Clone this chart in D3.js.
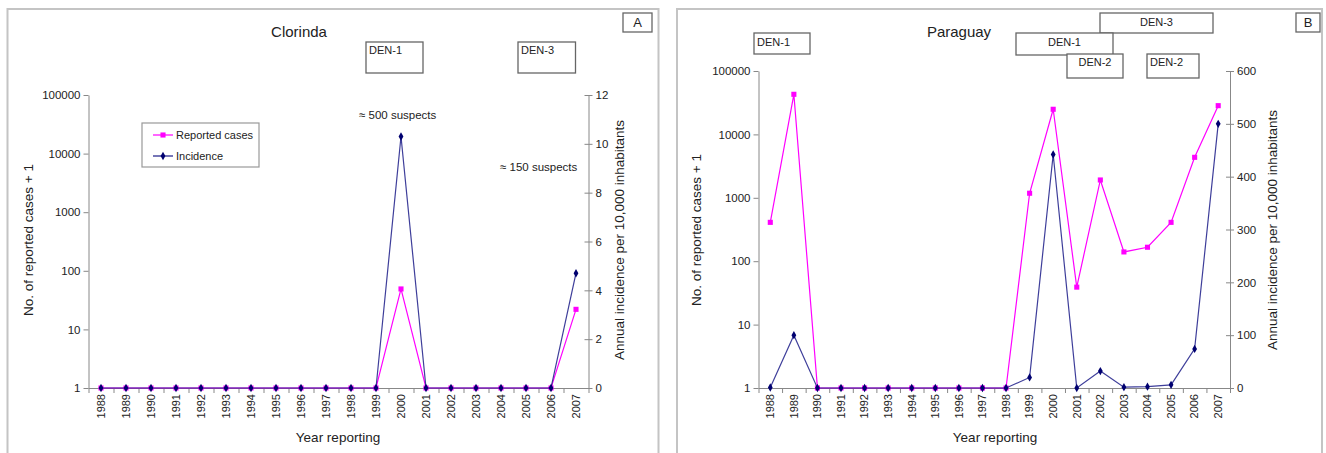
<!DOCTYPE html>
<html>
<head>
<meta charset="utf-8">
<script src="https://cdn.jsdelivr.net/npm/d3@7"></script>
<style>
  body { margin: 0; background: #fff; }
  text { font-family: "Liberation Sans", Arial, sans-serif; fill: #222; }
</style>
</head>
<body>
<svg id="chart" width="1326" height="453"></svg>
<script>
// data
const years = ["1988", "1989", "1990", "1991", "1992", "1993", "1994", "1995", "1996", "1997",
  "1998", "1999", "2000", "2001", "2002", "2003", "2004", "2005", "2006", "2007"];
const casesTicks = [1, 10, 100, 1000, 10000, 100000];

const clorindaCases = [1, 1, 1, 1, 1, 1, 1, 1, 1, 1, 1, 1, 49, 1, 1, 1, 1, 1, 1, 22];
const clorindaIncidence = [0, 0, 0, 0, 0, 0, 0, 0, 0, 0, 0, 0, 10.3, 0, 0, 0, 0, 0, 0, 4.7];
const clorindaIncTicks = [0, 2, 4, 6, 8, 10, 12];

const paraguayCases = [410, 42900, 1, 1, 1, 1, 1, 1, 1, 1, 1, 1180, 24900, 39, 1910, 140, 166, 410, 4350, 28400];
const paraguayIncidence = [1, 100, 0, 0, 0, 0, 0, 0, 0, 0, 0, 20, 442, 0, 32, 1.5, 2.5, 6, 74, 500];
const paraguayIncTicks = [0, 100, 200, 300, 400, 500, 600];

const seriesNames = ["Reported cases", "Incidence"];
const casesColor = "#ff00ff";
const incColor = "#1c1c88";

const svg = d3.select("#chart");

const panels = [
  {
    title: "Clorinda", letter: "A", cases: clorindaCases, incidence: clorindaIncidence,
    incTicks: clorindaIncTicks,
    frame: [7.5, 9, 658.5], letterBox: [623, 13, 652, 32],
    left: 88.5, right: 588.5, top: 95, bottom: 388, titleX: 299,
    yTitleX: 28, y2TitleX: 619, yTitleY: 240, xTitleX: 338,
    boxes: [
      { label: "DEN-1", x0: 366, x1: 423, y0: 42, y1: 73, align: "start", ty: 54 },
      { label: "DEN-3", x0: 518, x1: 575.5, y0: 42, y1: 73, align: "start", ty: 54 }
    ],
    notes: [
      { label: "≈ 500 suspects", x: 359, y: 119 },
      { label: "≈ 150 suspects", x: 500, y: 171 }
    ],
    legend: true
  },
  {
    title: "Paraguay", letter: "B", cases: paraguayCases, incidence: paraguayIncidence,
    incTicks: paraguayIncTicks,
    frame: [677, 9, 1322], letterBox: [1296, 13, 1320, 32],
    left: 758.5, right: 1230, top: 71, bottom: 388, titleX: 959,
    yTitleX: 696, y2TitleX: 1272, yTitleY: 230, xTitleX: 995,
    boxes: [
      { label: "DEN-1", x0: 754, x1: 810, y0: 33, y1: 54, align: "start", ty: 46 },
      { label: "DEN-3", x0: 1100, x1: 1213, y0: 13, y1: 33, align: "middle", ty: 26 },
      { label: "DEN-1", x0: 1016, x1: 1113, y0: 33, y1: 55, align: "middle", ty: 46 },
      { label: "DEN-2", x0: 1067, x1: 1123, y0: 54, y1: 78, align: "middle", ty: 66 },
      { label: "DEN-2", x0: 1147, x1: 1199, y0: 54, y1: 78, align: "start", ty: 66 }
    ],
    notes: [],
    legend: false
  }
];

function drawPanel(p) {
  const g = svg.append("g");

  // panel frame (open at the bottom)
  const [fx0, fy0, fx1] = p.frame;
  g.append("path")
    .attr("d", `M${fx0},460V${fy0}H${fx1}V460`)
    .attr("fill", "none")
    .attr("stroke", "#c4c4c4")
    .attr("stroke-width", 2);

  const [lx0, ly0, lx1, ly1] = p.letterBox;
  g.append("rect")
    .attr("x", lx0).attr("y", ly0)
    .attr("width", lx1 - lx0).attr("height", ly1 - ly0)
    .attr("fill", "#fff").attr("stroke", "#666").attr("stroke-width", 1.3);
  g.append("text")
    .attr("x", (lx0 + lx1) / 2).attr("y", ly1 - 5)
    .attr("text-anchor", "middle")
    .attr("font-size", 13)
    .text(p.letter);

  const x = d3.scaleBand().domain(years).range([p.left, p.right]);
  const xEdges = d3.scaleLinear().domain([0, years.length]).range([p.left, p.right]);
  const yCases = d3.scaleLog().domain([1, 100000]).range([p.bottom, p.top]);
  const yInc = d3.scaleLinear().domain(d3.extent(p.incTicks)).range([p.bottom, p.top]);

  // x axis: labels centred in bands, ticks on band edges
  const xAxis = g.append("g")
    .attr("transform", `translate(0,${p.bottom})`)
    .call(d3.axisBottom(x).tickSize(0).tickPadding(0));
  xAxis.select(".domain").remove();
  xAxis.selectAll("text")
    .attr("transform", "rotate(-90)")
    .attr("x", -6).attr("y", 0).attr("dy", "0.35em")
    .attr("text-anchor", "end")
    .attr("font-size", 11)
    .attr("font-family", null)
    .attr("fill", "#222");

  const xTicks = g.append("g")
    .attr("transform", `translate(0,${p.bottom})`)
    .call(d3.axisBottom(xEdges).ticks(years.length).tickFormat("").tickSize(5).tickSizeOuter(0));
  xTicks.select(".domain").attr("stroke", "#888");
  xTicks.selectAll("line").attr("stroke", "#888");

  // left log axis
  const yAxis = g.append("g")
    .attr("transform", `translate(${p.left},0)`)
    .call(d3.axisLeft(yCases).tickValues(casesTicks).tickFormat(d3.format("d"))
      .tickSize(5).tickSizeOuter(0).tickPadding(3));
  yAxis.select(".domain").attr("stroke", "#888");
  yAxis.selectAll("line").attr("stroke", "#888");
  yAxis.selectAll("text").attr("font-size", 11.5).attr("font-family", null).attr("fill", "#222");

  // right linear axis with crossing ticks
  const y2Axis = g.append("g")
    .attr("transform", `translate(${p.right},0)`)
    .call(d3.axisRight(yInc).tickValues(p.incTicks).tickSize(4).tickSizeOuter(0).tickPadding(3));
  y2Axis.select(".domain").attr("stroke", "#888");
  y2Axis.selectAll("line").attr("x1", -4).attr("stroke", "#888");
  y2Axis.selectAll("text").attr("font-size", 11.5).attr("font-family", null).attr("fill", "#222");

  // titles
  g.append("text")
    .attr("x", p.titleX).attr("y", 37)
    .attr("text-anchor", "middle")
    .attr("font-size", 15)
    .text(p.title);

  g.append("text")
    .attr("x", p.xTitleX).attr("y", 442)
    .attr("text-anchor", "middle")
    .attr("font-size", 13.5)
    .text("Year reporting");

  g.append("text")
    .attr("transform", `translate(${p.yTitleX + 5},${p.yTitleY}) rotate(-90)`)
    .attr("text-anchor", "middle")
    .attr("font-size", 13.5)
    .text("No. of reported cases + 1");

  g.append("text")
    .attr("transform", `translate(${p.y2TitleX + 5},${p.yTitleY}) rotate(-90)`)
    .attr("text-anchor", "middle")
    .attr("font-size", 13.5)
    .text("Annual incidence per 10,000 inhabitants");

  // serotype boxes
  p.boxes.forEach(b => {
    g.append("rect")
      .attr("x", b.x0).attr("y", b.y0)
      .attr("width", b.x1 - b.x0).attr("height", b.y1 - b.y0)
      .attr("fill", "#fff").attr("stroke", "#666").attr("stroke-width", 1.3);
    g.append("text")
      .attr("x", b.align === "middle" ? (b.x0 + b.x1) / 2 : b.x0 + 3)
      .attr("y", b.ty)
      .attr("text-anchor", b.align)
      .attr("font-size", 11)
      .text(b.label);
  });

  p.notes.forEach(n => {
    g.append("text")
      .attr("x", n.x).attr("y", n.y)
      .attr("font-size", 11.5)
      .text(n.label);
  });

  // series
  const casesLine = d3.line()
    .x((d, i) => x(years[i]) + x.bandwidth() / 2)
    .y(d => yCases(d));
  const incLine = d3.line()
    .x((d, i) => x(years[i]) + x.bandwidth() / 2)
    .y(d => yInc(d));

  g.append("path")
    .datum(p.cases)
    .attr("d", casesLine)
    .attr("fill", "none")
    .attr("stroke", casesColor)
    .attr("stroke-width", 1.2);

  g.selectAll(".case-pt")
    .data(p.cases)
    .join("path")
    .attr("class", "case-pt")
    .attr("transform", (d, i) => `translate(${x(years[i]) + x.bandwidth() / 2},${yCases(d)})`)
    .attr("d", d3.symbol(d3.symbolSquare, 26))
    .attr("fill", casesColor);

  g.append("path")
    .datum(p.incidence)
    .attr("d", incLine)
    .attr("fill", "none")
    .attr("stroke", incColor)
    .attr("stroke-width", 1.2)
    .attr("stroke-opacity", 0.85);

  g.selectAll(".inc-pt")
    .data(p.incidence)
    .join("path")
    .attr("class", "inc-pt")
    .attr("transform", (d, i) => `translate(${x(years[i]) + x.bandwidth() / 2},${yInc(d)})`)
    .attr("d", d3.symbol(d3.symbolDiamond, 20))
    .attr("fill", "#000070");

  if (p.legend) {
    const lg = g.append("g");
    lg.append("rect")
      .attr("x", 142).attr("y", 123).attr("width", 117).attr("height", 44)
      .attr("fill", "#fff").attr("stroke", "#999").attr("stroke-width", 1.2);
    const rows = [
      { name: seriesNames[0], color: casesColor, sym: d3.symbolSquare, size: 26, fill: casesColor, y: 135 },
      { name: seriesNames[1], color: incColor, sym: d3.symbolDiamond, size: 20, fill: "#000070", y: 156 }
    ];
    rows.forEach(r => {
      lg.append("line")
        .attr("x1", 153).attr("x2", 173).attr("y1", r.y).attr("y2", r.y)
        .attr("stroke", r.color).attr("stroke-width", 1.2);
      lg.append("path")
        .attr("transform", `translate(163,${r.y})`)
        .attr("d", d3.symbol(r.sym, r.size))
        .attr("fill", r.fill);
      lg.append("text")
        .attr("x", 176).attr("y", r.y + 4)
        .attr("font-size", 11)
        .text(r.name);
    });
  }
}

panels.forEach(drawPanel);
</script>
</body>
</html>
